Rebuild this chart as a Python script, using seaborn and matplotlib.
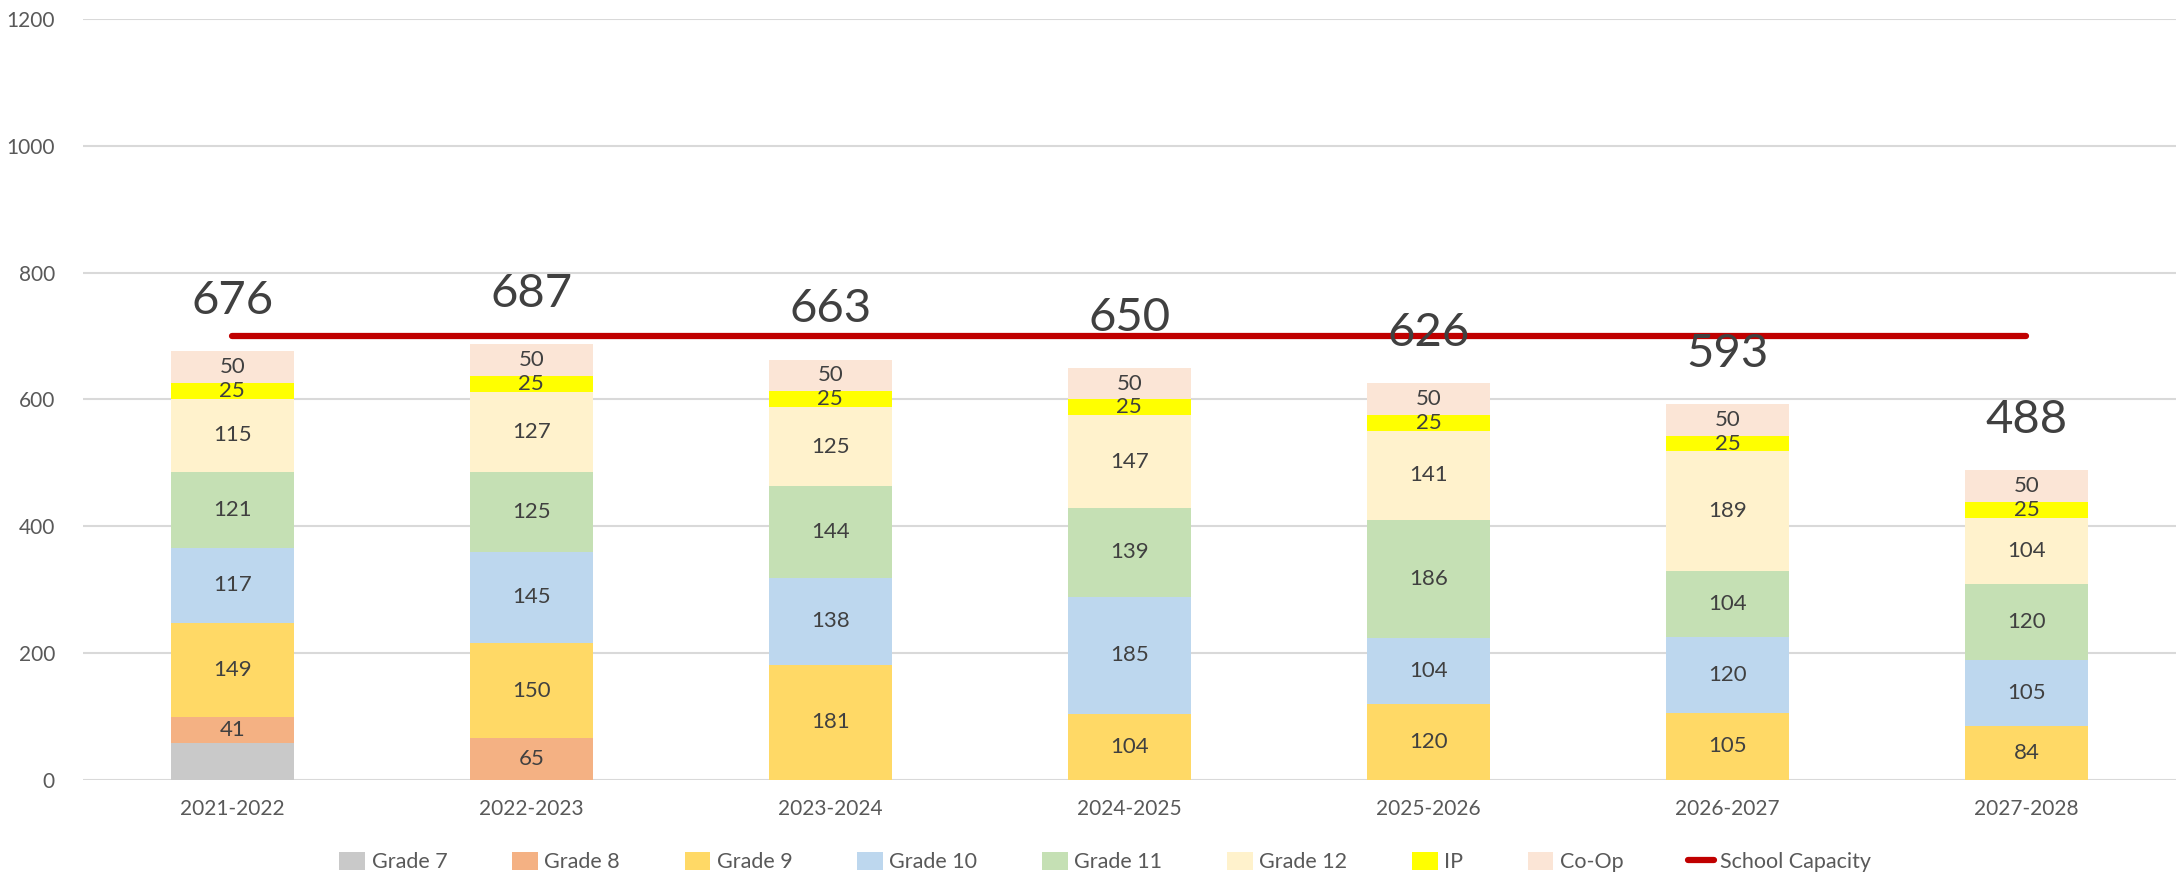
import numpy as np
import pandas as pd
import seaborn as sns
import matplotlib.pyplot as plt
from matplotlib.patches import Patch
from matplotlib.lines import Line2D

# === Dados ===
anos = ['2021-2022', '2022-2023', '2023-2024', '2024-2025', '2025-2026', '2026-2027', '2027-2028']
grade7 = [58, 0, 0, 0, 0, 0, 0]
grade8 = [41, 65, 0, 0, 0, 0, 0]
grade9 = [149, 150, 181, 104, 120, 105, 84]
grade10 = [117, 145, 138, 185, 104, 120, 105]
grade11 = [121, 125, 144, 139, 186, 104, 120]
grade12 = [115, 127, 125, 147, 141, 189, 104]
ip = [25, 25, 25, 25, 25, 25, 25]
coop = [50, 50, 50, 50, 50, 50, 50]
capacidade = [700, 700, 700, 700, 700, 700, 700]

series = ['Grade 7', 'Grade 8', 'Grade 9', 'Grade 10', 'Grade 11', 'Grade 12', 'IP', 'Co-Op']
cores = ['#C9C9C9', '#F4B183', '#FFD966', '#BDD7EE', '#C5E0B4', '#FFF2CC', '#FFFF00', '#FBE5D6']

df = pd.DataFrame({'Ano': anos, 'Grade 7': grade7, 'Grade 8': grade8, 'Grade 9': grade9,
                   'Grade 10': grade10, 'Grade 11': grade11, 'Grade 12': grade12,
                   'IP': ip, 'Co-Op': coop})
df['Total'] = df[series].sum(axis=1)

# === Estilo ===
sns.set_style('white')
plt.rcParams['font.family'] = ['Lato', 'DejaVu Sans']

fig = plt.figure(figsize=(21.76, 8.77), dpi=100)
ax = fig.add_axes([0.038, 0.111, 0.962, 0.867])

# --- Barras empilhadas
base = np.zeros(len(anos))
for nome, cor in zip(series, cores):
    sns.barplot(x=df['Ano'], y=df[nome], bottom=base, color=cor, width=0.41,
                saturation=1, linewidth=0, edgecolor='none', ax=ax, zorder=2)
    cont = ax.containers[-1]
    if nome != 'Grade 7':
        rotulos = [f'{v:.0f}' if v > 0 else '' for v in df[nome]]
        ax.bar_label(cont, labels=rotulos, label_type='center', fontsize=16, color='#404040')
    base = base + df[nome].values

# --- Capacidade da escola
sns.lineplot(x=list(range(len(anos))), y=capacidade, color='#C00000', linewidth=4.5,
             sort=False, ax=ax, zorder=3, solid_capstyle='round')

# --- Totais
for i, t in enumerate(df['Total']):
    ax.text(i, t + 79, f'{t}', ha='center', va='center', fontsize=34, color='#404040', zorder=4)

ax.set_xlim(-0.5, len(anos) - 0.5)
ax.set_ylim(0, 1200)
ax.set_yticks(range(0, 1201, 200))
ax.yaxis.grid(True, color='#D9D9D9', linewidth=1.5, zorder=0)
ax.set_axisbelow(True)
for s in ax.spines.values():
    s.set_visible(False)
ax.set_xlabel('')
ax.set_ylabel('')
ax.tick_params(axis='both', length=0, labelsize=15, labelcolor='#595959')
ax.tick_params(axis='x', pad=14)
ax.tick_params(axis='y', pad=20)

# --- Legenda
handles = [Patch(facecolor=c, edgecolor='none') for c in cores]
handles.append(Line2D([0], [0], color='#C00000', linewidth=4.5, solid_capstyle='round'))
fig.legend(handles, series + ['School Capacity'], loc='center', bbox_to_anchor=(0.508, 0.017),
           ncol=9, frameon=False, fontsize=15.5, labelcolor='#595959', handlelength=1.2,
           handleheight=0.9, handletextpad=0.3, columnspacing=3.0)

fig.savefig('out.png', dpi=100)
